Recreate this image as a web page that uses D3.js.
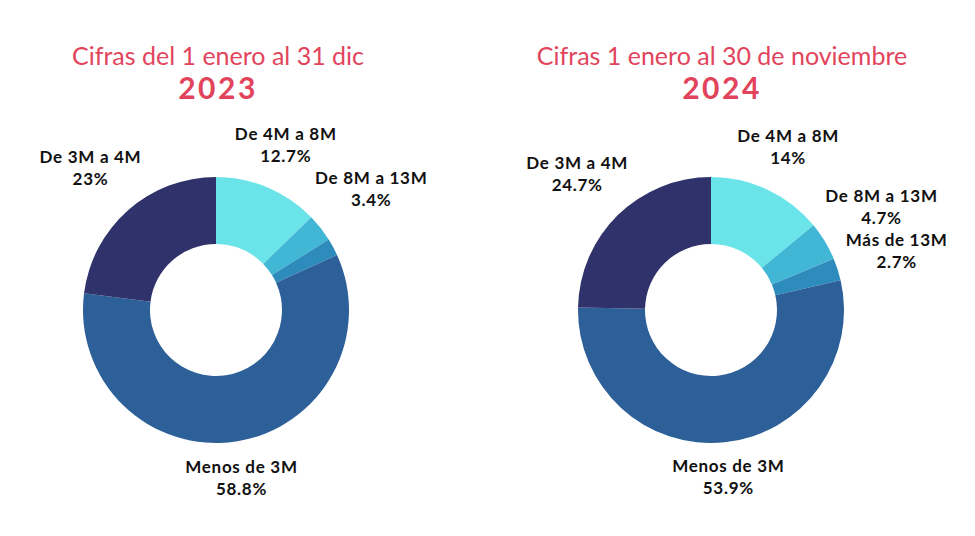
<!DOCTYPE html>
<html>
  <meta charset="utf-8">
  <head>
    <script src="https://d3js.org/d3.v7.min.js"></script>
    <style>
      body { margin: 0; background: #fff; }
      text { font-family: Lato, "Noto Sans", sans-serif; }
    </style>
  </head>
  <body>
    <div id="viz"></div>

    <script type="text/javascript">
      // data
      var categories = ["De 4M a 8M", "De 8M a 13M", "Más de 13M", "Menos de 3M", "De 3M a 4M"];
      var values2023 = [12.7, 3.4, 2.1, 58.8, 23];
      var values2024 = [14, 4.7, 2.7, 53.9, 24.7];
      var labels2023 = ["12.7%", "3.4%", null, "58.8%", "23%"];
      var labels2024 = ["14%", "4.7%", "2.7%", "53.9%", "24.7%"];
      var subtitles = ["Cifras del 1 enero al 31 dic", "Cifras 1 enero al 30 de noviembre"];
      var years = ["2023", "2024"];

      var colors = ["#6ae4e8", "#41b6d5", "#2e8cbd", "#2d5f99", "#30336b"];

      var width = 975, height = 536;
      var outerR = 133, innerR = 66, labelR = 140;

      var svg = d3.select("#viz")
        .append("svg")
          .attr("width", width)
          .attr("height", height);

      var color = d3.scaleOrdinal().domain(categories).range(colors);

      var pie = d3.pie().sort(null).value((d) => d.value);
      var arc = d3.arc().innerRadius(innerR).outerRadius(outerR);

      var panels = [
        {cx: 216, cy: 310, tx: 218, values: values2023, labels: labels2023},
        {cx: 711, cy: 310, tx: 722, values: values2024, labels: labels2024}
      ];

      panels.forEach(function(p, i) {
        // titles
        svg.append("text")
          .attr("x", p.tx).attr("y", 65)
          .attr("text-anchor", "middle")
          .style("font-size", "25px")
          .style("fill", "#e2445c")
          .text(subtitles[i]);
        svg.append("text")
          .attr("x", p.tx).attr("y", 99)
          .attr("text-anchor", "middle")
          .style("font-size", "30px")
          .style("font-weight", "bold")
          .style("letter-spacing", "2.5px")
          .style("fill", "#e2445c")
          .text(years[i]);

        var data = categories.map((c, j) => ({name: c, value: p.values[j], label: p.labels[j]}));
        var g = svg.append("g").attr("transform", "translate(" + p.cx + "," + p.cy + ")");

        g.selectAll("path")
          .data(pie(data))
          .enter()
          .append("path")
            .attr("d", arc)
            .attr("fill", (d) => color(d.data.name));

        // labels outside the ring
        var lab = g.selectAll("g.lab")
          .data(pie(data).filter((d) => d.data.label))
          .enter()
          .append("g")
            .attr("class", "lab");
        lab.append("text")
          .attr("text-anchor", "middle")
          .attr("y", -4)
          .style("font-size", "17px")
          .style("font-weight", "bold")
          .style("letter-spacing", "0.7px")
          .style("fill", "#111")
          .text((d) => d.data.name);
        lab.append("text")
          .attr("text-anchor", "middle")
          .attr("y", 18)
          .style("font-size", "17px")
          .style("font-weight", "bold")
          .style("letter-spacing", "0.7px")
          .style("fill", "#111")
          .text((d) => d.data.label);
        lab.each(function(d) {
          var bb = this.getBBox();
          var a = (d.startAngle + d.endAngle) / 2;
          var dx = Math.sin(a), dy = -Math.cos(a);
          var dist = labelR + Math.abs(dx) * bb.width / 2 + Math.abs(dy) * bb.height / 2;
          var cx = dx * dist, cy = dy * dist;
          var offY = bb.y + bb.height / 2;
          d3.select(this).attr("transform", "translate(" + cx + "," + (cy - offY) + ")");
        });
      });
    </script>
  </body>
</html>
